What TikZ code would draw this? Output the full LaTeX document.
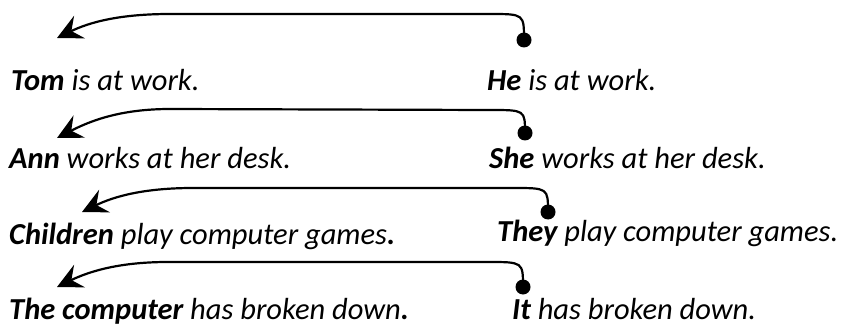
\documentclass[tikz,border=0pt]{standalone}
\usepackage{fontspec}
\setmainfont{Carlito}
\usetikzlibrary{arrows.meta}
\tikzset{
  sent/.style={anchor=base west, inner sep=0pt, font=\fontsize{30.5}{34}\selectfont\itshape},
  ref/.style={line width=2.2pt, -{Stealth[length=25pt,width=25pt,inset=9pt]}},
  dotmark/.style={circle, fill=black, inner sep=0pt, minimum size=15pt},
}
\begin{document}
\begin{tikzpicture}[x=1pt,y=-1pt]
\useasboundingbox (0,0) rectangle (846,326);
% sentences
\node[sent] (s1) at (11,91)  {\textbf{Tom} is at work.};
\node[sent] (p1) at (487,91) {\textbf{He} is at work.};
\node[sent] (s2) at (9,168) {\textbf{Ann} works at her desk.};
\node[sent] (p2) at (489,168) {\textbf{She} works at her desk.};
\node[sent] (s3) at (9,244) {\textbf{Children} play computer games\textbf{.}};
\node[sent] (p3) at (497,241) {\textbf{They} play computer games.};
\node[sent] (s4) at (9,319) {\textbf{The computer} has broken down\textbf{.}};
\node[sent] (p4) at (512,319) {\textbf{It} has broken down.};
% dots and tips
\node[dotmark] (d1) at (524,40) {};
\node[dotmark] (d2) at (525,133) {};
\node[dotmark] (d3) at (548,212) {};
\node[dotmark] (d4) at (523,287) {};
\coordinate (t1) at (57,38);
\coordinate (t2) at (57,138);
\coordinate (t3) at (82,212);
\coordinate (t4) at (57,287);
% connectors
\draw[ref] (d1.center) .. controls (524,14) .. ++(-34,-26) -- ++(-320,0) .. controls (120,14) and (90,22) .. (t1);
\draw[ref] (d2.center) .. controls (525,110) .. ++(-35,-23) -- ++(-320,-1) .. controls (120,109) and (90,121) .. (t2);
\draw[ref] (d3.center) .. controls (548,188) .. ++(-35,-24) -- ++(-320,0) .. controls (145,188) and (115,196) .. (t3);
\draw[ref] (d4.center) .. controls (523,262) .. ++(-35,-25) -- ++(-320,0) .. controls (120,262) and (90,271) .. (t4);
\end{tikzpicture}
\end{document}
